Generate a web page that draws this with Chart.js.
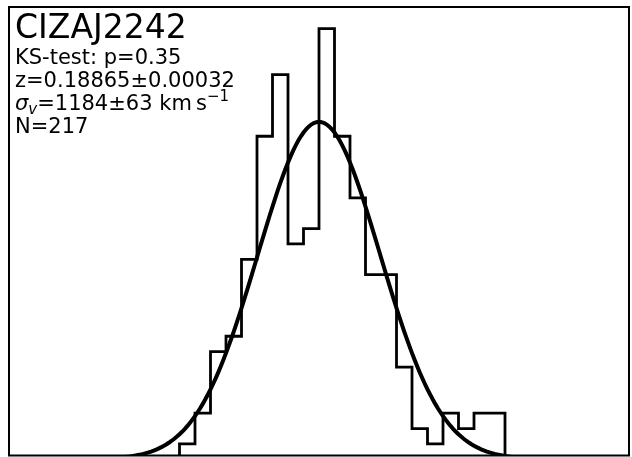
<!DOCTYPE html>
<html>
<head>
<meta charset="utf-8">
<script src="https://cdn.jsdelivr.net/npm/chart.js@4.4.0/dist/chart.umd.min.js"></script>
<style>
  html, body { margin: 0; padding: 0; background: #fff; }
  #wrap { width: 632px; height: 457px; }
</style>
</head>
<body>
<div id="wrap"><canvas id="velHist" width="632" height="457"></canvas></div>
<script>
// velocity histogram, rest frame of the cluster (km/s)
const binEdges = [-2700, -2400, -2100, -1800, -1500, -1200, -900, -600, -300, 0, 300, 600, 900, 1200, 1500, 1800, 2100, 2400, 2700, 3000, 3300, 3600];
const binCounts = [1, 3, 7, 8, 13, 21, 25, 14, 15, 28, 21, 17, 12, 12, 6, 2, 1, 3, 2, 3, 3];

// fit parameters printed in the panel
const clusterName = "CIZAJ2242";
const ksP = "0.35";
const zText = "0.18865\u00b10.00032";
const sigmaV = 1184;
const sigmaErr = 63;
const nGal = 217;
const binWidth = 300;

const xRange = [-6000, 6000];
const yRange = [0.25, 29.4];

// outline of the step histogram
const histPts = [{x: binEdges[0], y: 0}];
for (let i = 0; i < binCounts.length; i++) {
  histPts.push({x: binEdges[i], y: binCounts[i]});
}
histPts.push({x: binEdges[binEdges.length - 1], y: binCounts[binCounts.length - 1]});
histPts.push({x: binEdges[binEdges.length - 1], y: 0});

// gaussian with the fitted sigma, scaled to the histogram
const amp = nGal * binWidth / (sigmaV * Math.sqrt(2 * Math.PI));
const gaussPts = [];
for (let v = xRange[0]; v <= xRange[1]; v += 50) {
  gaussPts.push({x: v, y: amp * Math.exp(-0.5 * (v / sigmaV) * (v / sigmaV))});
}

const frameAndText = {
  id: "frameAndText",
  afterDatasetsDraw(chart) {
    const ctx = chart.ctx;
    const a = chart.chartArea;
    ctx.save();
    ctx.strokeStyle = "#000";
    ctx.lineWidth = 2;
    ctx.strokeRect(a.left, a.top, a.right - a.left, a.bottom - a.top);

    ctx.fillStyle = "#000";
    ctx.textBaseline = "alphabetic";
    ctx.textAlign = "left";
    const x0 = 15;
    ctx.font = "33px 'DejaVu Sans'";
    ctx.fillText(clusterName, x0, 38);

    ctx.font = "21px 'DejaVu Sans'";
    ctx.fillText("KS-test: p=" + ksP, x0, 64);
    ctx.fillText("z=" + zText, x0, 86.5);

    // sigma_v line with sub/superscripts
    let x = x0;
    const yb = 109.5;
    ctx.font = "oblique 21px 'DejaVu Sans'";
    ctx.fillText("\u03c3", x, yb);
    x += ctx.measureText("\u03c3").width;
    ctx.font = "oblique 15px 'DejaVu Sans'";
    ctx.fillText("v", x, yb + 4);
    x += ctx.measureText("v").width;
    ctx.font = "21px 'DejaVu Sans'";
    const mid = "=" + sigmaV + "\u00b1" + sigmaErr + " km\u2009s";
    ctx.fillText(mid, x, yb);
    x += ctx.measureText(mid).width;
    ctx.font = "15px 'DejaVu Sans'";
    ctx.fillText("\u22121", x, yb - 9);

    ctx.font = "21px 'DejaVu Sans'";
    ctx.fillText("N=" + nGal, x0, 132.5);
    ctx.restore();
  }
};

new Chart("velHist", {
  type: "line",
  data: {
    datasets: [
      {
        data: histPts,
        stepped: "before",
        borderColor: "#000",
        borderWidth: 2.8,
        pointRadius: 0,
        fill: false
      },
      {
        data: gaussPts,
        borderColor: "#000",
        borderWidth: 4,
        pointRadius: 0,
        tension: 0,
        fill: false
      }
    ]
  },
  options: {
    responsive: false,
    animation: false,
    events: [],
    layout: { padding: { left: 9, top: 7, right: 3, bottom: 1.5 } },
    plugins: { legend: { display: false }, tooltip: { enabled: false } },
    scales: {
      x: { type: "linear", min: xRange[0], max: xRange[1], display: false },
      y: { type: "linear", min: yRange[0], max: yRange[1], display: false }
    }
  },
  plugins: [frameAndText]
});
</script>
</body>
</html>
